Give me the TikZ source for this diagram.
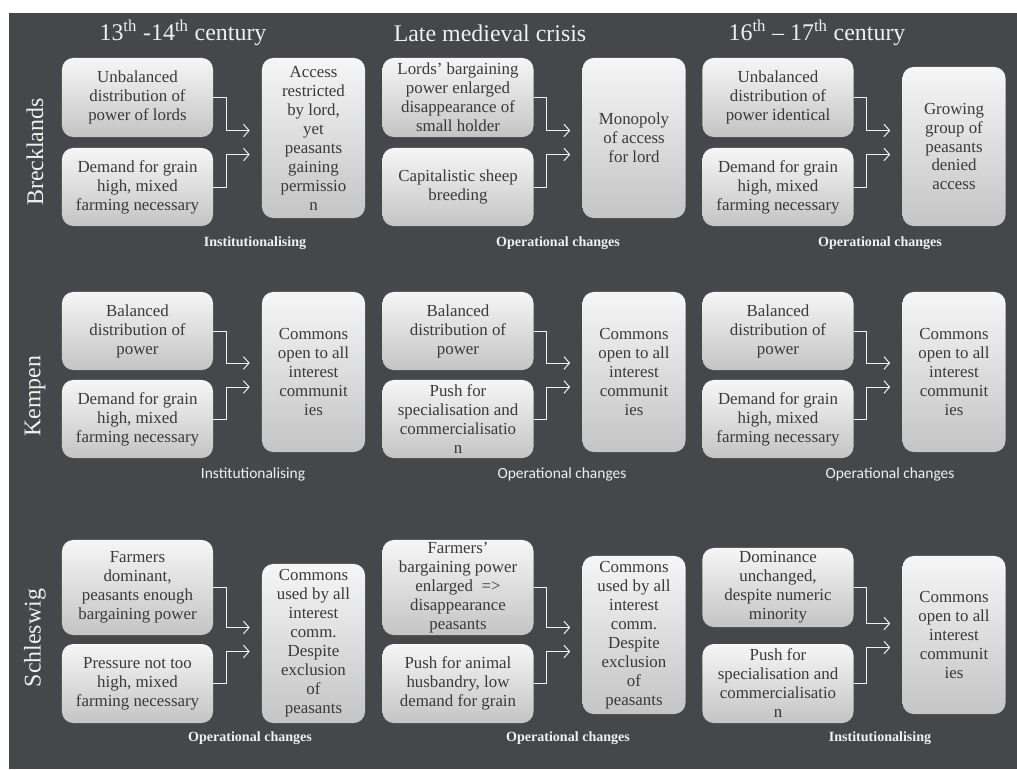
\documentclass[tikz,border=0pt]{standalone}
\usepackage{fontspec}
\setmainfont{Liberation Serif}
\newfontfamily\capsans{Carlito}
\usetikzlibrary{arrows.meta,calc}
\definecolor{slate}{HTML}{46474A}
\definecolor{ink}{HTML}{3A3A3A}
\definecolor{pale}{HTML}{F0F0F0}
\definecolor{boxtop}{HTML}{F6F6F6}
\definecolor{boxbot}{HTML}{C4C4C5}

\begin{document}
\begin{tikzpicture}[x=0.025cm,y=-0.025cm,
    box/.style={rectangle,rounded corners=8pt,top color=boxtop,bottom color=boxbot,
        text=ink,align=center,font=\fontsize{12}{13.5}\selectfont,inner xsep=2pt,inner ysep=0pt},
    cause/.style={box,minimum width=3.775cm},
    outcome/.style={box,minimum width=2.575cm},
    head/.style={text=pale,font=\fontsize{17}{20}\selectfont},
    region/.style={head,rotate=90},
    tag/.style={text=pale,font=\bfseries\fontsize{10}{12}\selectfont},
    tagsans/.style={text=pale,font=\capsans\fontsize{11}{13}\selectfont},
    flow/.style={draw=pale,line width=0.7pt,-{Straight Barb[length=4pt,width=9pt]}}]
    \fill[white] (0,0) rectangle (1017,769);
    \fill[slate] (9,13) rectangle (1017,769);

    \node (h1) [head] at (183,33) {13\textsuperscript{th} -14\textsuperscript{th} century};
    \node (h2) [head] at (490,33) {Late medieval crisis};
    \node (h3) [head] at (817,33) {16\textsuperscript{th} -- 17\textsuperscript{th} century};

    \node (g1) [region] at (35,152) {Brecklands};
    \node (g2) [region] at (35,396) {Kempen};
    \node (g3) [region] at (35,638) {Schleswig};

    % Brecklands
    \node (u1) [cause,minimum height=1.975cm] at (137.5,97.5) {Unbalanced\\distribution of\\power of lords};
    \node (l1) [cause,minimum height=1.95cm] at (137.5,187) {Demand for grain\\high, mixed\\farming necessary};
    \node (r1) [outcome,minimum height=4cm] at (313.5,138) {Access\\restricted\\by lord,\\yet\\peasants\\gaining\\permissio\\n};
    \node (u2) [cause,minimum height=1.975cm] at (458,97.5) {Lords' bargaining\\power enlarged\\disappearance of\\small holder};
    \node (l2) [cause,minimum height=1.95cm] at (458,187) {Capitalistic sheep\\breeding};
    \node (r2) [outcome,minimum height=4cm] at (634,138) {Monopoly\\of access\\for lord};
    \node (u3) [cause,minimum height=1.975cm] at (778,97.5) {Unbalanced\\distribution of\\power identical};
    \node (l3) [cause,minimum height=1.95cm] at (778,187) {Demand for grain\\high, mixed\\farming necessary};
    \node (r3) [outcome,minimum height=3.975cm] at (954,146.5) {Growing\\group of\\peasants\\denied\\access};
    \node (c1) [tag] at (255,243) {Institutionalising};
    \node (c2) [tag] at (558,243) {Operational changes};
    \node (c3) [tag] at (880,243) {Operational changes};

    % Kempen
    \node (u4) [cause,minimum height=1.95cm] at (137.5,331) {Balanced\\distribution of\\power};
    \node (l4) [cause,minimum height=1.95cm] at (137.5,419) {Demand for grain\\high, mixed\\farming necessary};
    \node (r4) [outcome,minimum height=4cm] at (313.5,372) {Commons\\open to all\\interest\\communit\\ies};
    \node (u5) [cause,minimum height=1.95cm] at (458,331) {Balanced\\distribution of\\power};
    \node (l5) [cause,minimum height=1.95cm] at (458,419) {Push for\\specialisation and\\commercialisatio\\n};
    \node (r5) [outcome,minimum height=4cm] at (634,372) {Commons\\open to all\\interest\\communit\\ies};
    \node (u6) [cause,minimum height=1.95cm] at (778,331) {Balanced\\distribution of\\power};
    \node (l6) [cause,minimum height=1.95cm] at (778,419) {Demand for grain\\high, mixed\\farming necessary};
    \node (r6) [outcome,minimum height=4cm] at (954,372) {Commons\\open to all\\interest\\communit\\ies};
    \node (c4) [tagsans] at (253,474) {Institutionalising};
    \node (c5) [tagsans] at (562,474) {Operational changes};
    \node (c6) [tagsans] at (890,474) {Operational changes};

    % Schleswig
    \node (u7) [cause,minimum height=2.375cm] at (137.5,587.5) {Farmers\\dominant,\\peasants enough\\bargaining power};
    \node (l7) [cause,minimum height=1.975cm] at (137.5,683.5) {Pressure not too\\high, mixed\\farming necessary};
    \node (r7) [outcome,minimum height=3.975cm] at (313.5,643.5) {Commons\\used by all\\interest\\comm.\\Despite\\exclusion\\of\\peasants};
    \node (u8) [cause,minimum height=2.375cm] at (458,587.5) {Farmers'\\bargaining power\\enlarged \ =>\\disappearance\\peasants};
    \node (l8) [cause,minimum height=1.975cm] at (458,683.5) {Push for animal\\husbandry, low\\demand for grain};
    \node (r8) [outcome,minimum height=3.95cm] at (634,635) {Commons\\used by all\\interest\\comm.\\Despite\\exclusion\\of\\peasants};
    \node (u9) [cause,minimum height=1.975cm] at (778,587.5) {Dominance\\unchanged,\\despite numeric\\minority};
    \node (l9) [cause,minimum height=1.975cm] at (778,683.5) {Push for\\specialisation and\\commercialisatio\\n};
    \node (r9) [outcome,minimum height=3.95cm] at (954,635) {Commons\\open to all\\interest\\communit\\ies};
    \node (c7) [tag] at (250,738) {Operational changes};
    \node (c8) [tag] at (568,738) {Operational changes};
    \node (c9) [tag] at (880,738) {Institutionalising};

    \foreach \p in {1,...,9}{
        \coordinate (m\p) at ($(u\p.south)!0.5!(l\p.north)$);
        \draw[flow] (u\p.east) -- ++(13,0) |- ($(m\p -| r\p.west)+(-12,-12)$);
        \draw[flow] (l\p.east) -- ++(13,0) |- ($(m\p -| r\p.west)+(-12,12)$);
    }
\end{tikzpicture}
\end{document}
